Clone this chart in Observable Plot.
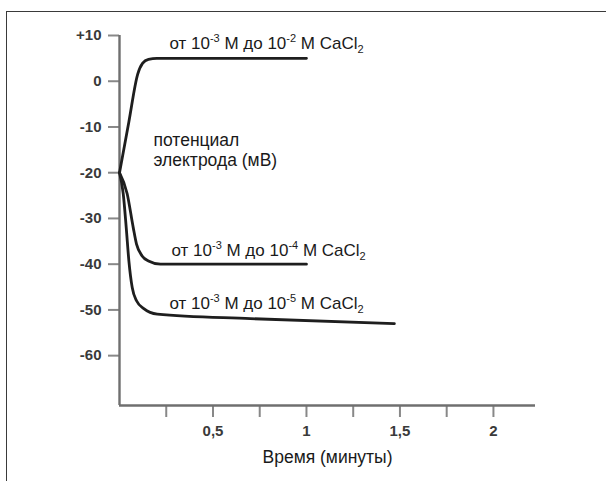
<!DOCTYPE html>
<html>
<head>
<meta charset="utf-8">
<script src="https://cdn.jsdelivr.net/npm/d3@7"></script>
<script src="https://cdn.jsdelivr.net/npm/@observablehq/plot@0.6"></script>
<style>
  body { margin: 0; background: #fff; }
  #wrap { position: relative; width: 606px; height: 481px; overflow: hidden; background: #fff; }
  #frame { position: absolute; left: 6px; top: 11px; right: -5px; bottom: -5px;
           border-top: 1.5px solid #3a3a3a; border-left: 1.5px solid #3a3a3a; }
  #chart { position: absolute; left: 0; top: 0; }
  #chart g[aria-label$="tick label"] { font-weight: bold; font-size: 15px; }
</style>
</head>
<body>
<div id="wrap"><div id="frame"></div><div id="chart"></div></div>
<script>
// ---- data ----
const xTickValues = [0.25, 0.5, 0.75, 1, 1.25, 1.5, 1.75, 2];
const xTickLabels = ["", "0,5", "", "1", "", "1,5", "", "2"];
const yTickValues = [10, 0, -10, -20, -30, -40, -50, -60];
const yTickLabels = ["+10", "0", "-10", "-20", "-30", "-40", "-50", "-60"];

const seriesNames = ["10^-2", "10^-4", "10^-5"];
const series1Time  = [0, 0.05, 0.097, 0.123, 0.155, 0.2, 0.35, 1.0];
const series1Value = [-20, -8.9, 1.5, 3.9, 4.8, 5, 5, 5];
const series2Time  = [0, 0.041, 0.073, 0.091, 0.121, 0.155, 0.219, 0.4, 1.0];
const series2Value = [-20, -24.6, -31.9, -35.6, -38.2, -39.3, -40, -40, -40];
const series3Time  = [0, 0.020, 0.036, 0.050, 0.068, 0.091, 0.130, 0.202, 0.7, 1.47];
const series3Value = [-20, -24.6, -32.0, -39.2, -45.1, -48.0, -49.7, -50.9, -51.9, -53];

const curveLabels = ["от 10⁻³ M до 10⁻² M CaCl₂", "от 10⁻³ M до 10⁻⁴ M CaCl₂", "от 10⁻³ M до 10⁻⁵ M CaCl₂"];
const curveLabelTime  = [0.267, 0.278, 0.267];
const curveLabelValue = [8.2, -37.0, -48.6];

const yNote = "потенциал\nэлектрода (мВ)";
const yNoteTime = 0.182, yNoteValue = -15.0;
const xTitle = "Время (минуты)";

const xDomain = [0, 2.225];
const yDomain = [-70.9, 10];

// ---- build tables ----
const rows = [];
[[series1Time, series1Value], [series2Time, series2Value], [series3Time, series3Value]]
  .forEach(([ts, vs], i) => ts.forEach((t, j) => rows.push({series: seriesNames[i], t, v: vs[j]})));
const labelRows = curveLabels.map((text, i) => ({text, t: curveLabelTime[i], v: curveLabelValue[i]}));

const font = "'Liberation Sans', Arial, Helvetica, sans-serif";

const chart = Plot.plot({
  width: 606,
  height: 481,
  marginTop: 35,
  marginBottom: 76,
  marginLeft: 119,
  marginRight: 71,
  style: { fontFamily: font, background: "transparent", color: "#333" },
  x: { domain: xDomain, label: null },
  y: { domain: yDomain, label: null },
  marks: [
    Plot.axisX({ ticks: xTickValues, tickFormat: (d, i) => xTickLabels[i], tickSize: 12, tickPadding: 8,
                 stroke: "#888", strokeWidth: 2, fill: "#3a3a3a", fontSize: 15, label: null }),
    Plot.axisY({ ticks: yTickValues, tickFormat: (d, i) => yTickLabels[i], tickSize: 11, tickPadding: 7,
                 stroke: "#888", strokeWidth: 2, fill: "#3a3a3a", fontSize: 15, label: null }),
    Plot.ruleX([0], { y1: yDomain[0], y2: yDomain[1], stroke: "#6f6f6f", strokeWidth: 2.4 }),
    Plot.ruleY([yDomain[0]], { x1: 0, x2: xDomain[1], stroke: "#6f6f6f", strokeWidth: 2.4 }),
    Plot.line(rows, { x: "t", y: "v", z: "series", curve: "monotone-x", stroke: "#1e1e1e", strokeWidth: 2.8 }),
    Plot.text(labelRows, { x: "t", y: "v", text: "text", textAnchor: "start", lineAnchor: "middle",
                           fontSize: 17, fill: "#1a1a1a" }),
    Plot.text([yNote], { x: yNoteTime, y: yNoteValue, text: d => d, textAnchor: "start", lineAnchor: "middle",
                         lineHeight: 1.14, fontSize: 17.5, fill: "#1a1a1a" }),
    Plot.text([xTitle], { frameAnchor: "bottom", text: d => d, lineAnchor: "middle", dy: 52,
                          fontSize: 17.5, fill: "#1a1a1a" })
  ]
});

// render superscripts/subscripts as real tspans
const supMap = {"⁻": "-", "³": "3", "²": "2", "⁴": "4", "⁵": "5"};
const subMap = {"₂": "2"};
chart.querySelectorAll("text").forEach(el => {
  const s = el.textContent;
  if (![...s].some(c => supMap[c] || subMap[c])) return;
  const runs = [];
  for (const c of s) {
    const kind = supMap[c] ? "sup" : subMap[c] ? "sub" : "n";
    const ch = supMap[c] || subMap[c] || c;
    if (runs.length && runs[runs.length - 1].kind === kind) runs[runs.length - 1].text += ch;
    else runs.push({kind, text: ch});
  }
  while (el.firstChild) el.removeChild(el.firstChild);
  let shift = 0;
  for (const r of runs) {
    const ts = document.createElementNS("http://www.w3.org/2000/svg", "tspan");
    const target = r.kind === "sup" ? -7 : r.kind === "sub" ? 4 : 0;
    if (target !== shift) { ts.setAttribute("dy", target - shift); shift = target; }
    if (r.kind !== "n") ts.setAttribute("font-size", "11");
    ts.textContent = r.text;
    el.appendChild(ts);
  }
});

document.getElementById("chart").appendChild(chart);
</script>
</body>
</html>
